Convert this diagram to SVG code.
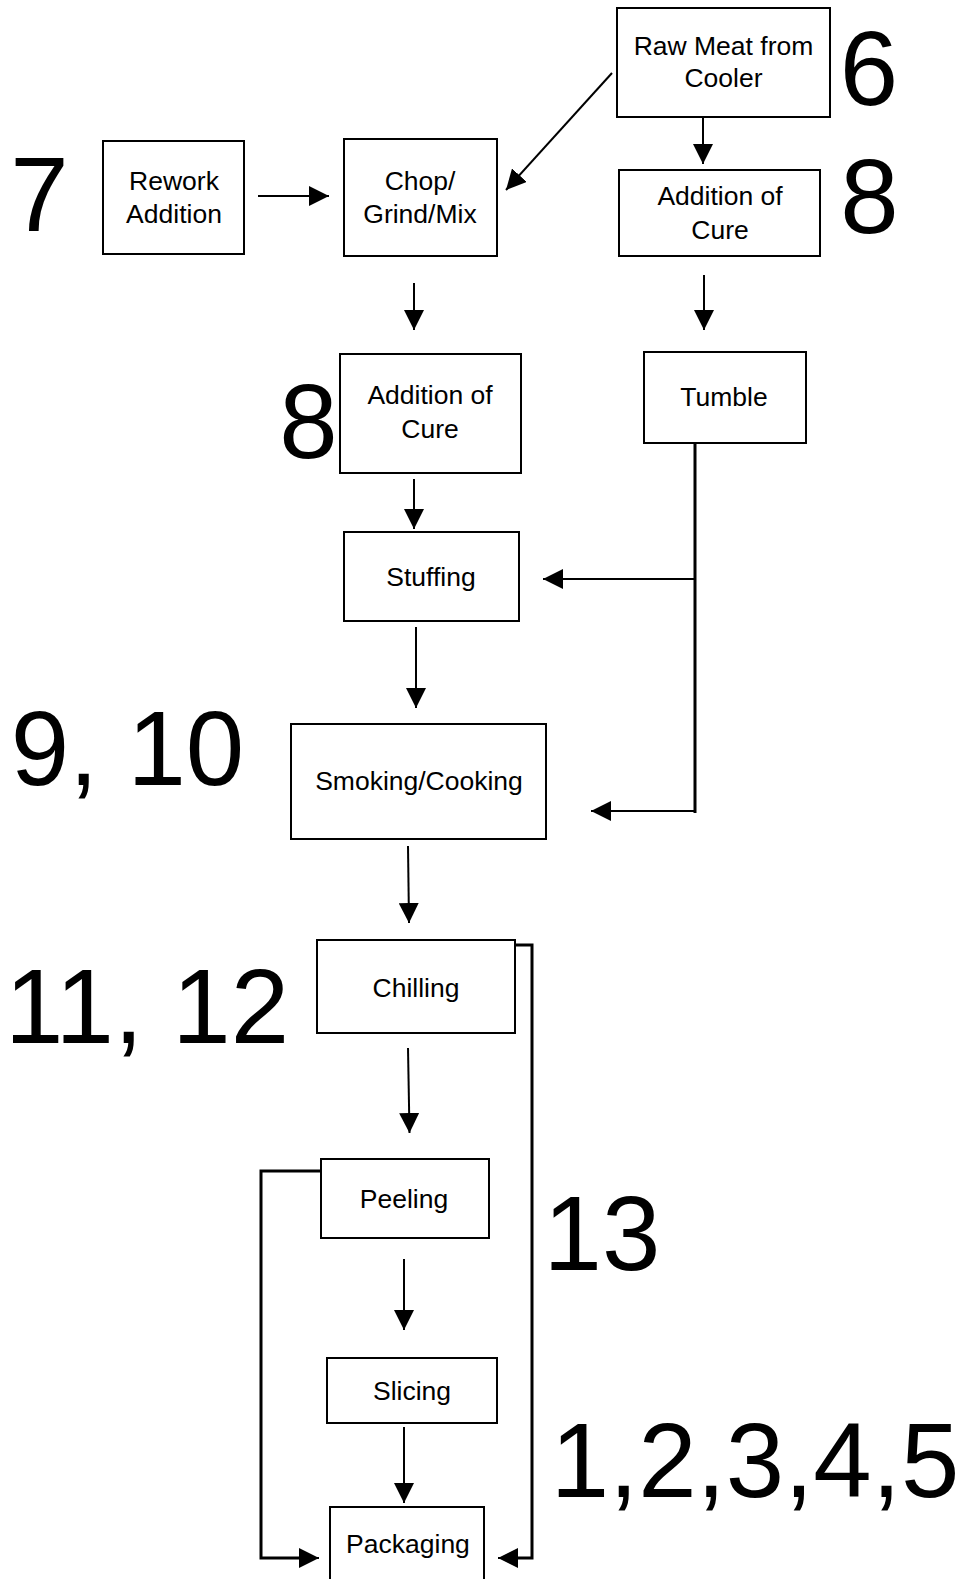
<svg xmlns="http://www.w3.org/2000/svg" width="969" height="1579" viewBox="0 0 969 1579">
<style>
.box{fill:#fff;stroke:#000;stroke-width:2}
.lbl{font-family:"Liberation Sans",Arial,sans-serif;font-size:26.5px;fill:#000;text-anchor:middle}
.num{font-family:"Liberation Sans",Arial,sans-serif;font-size:105px;fill:#000;text-anchor:middle}
.c{fill:none;stroke:#000;stroke-width:2}
.ct{fill:none;stroke:#000;stroke-width:3}
</style>
<defs>
<marker id="ah" markerUnits="userSpaceOnUse" markerWidth="20" markerHeight="20" refX="20" refY="10" orient="auto" viewBox="0 0 20 20">
<path d="M0,0 L20,10 L0,20 z" fill="#000"/>
</marker>
</defs>
<rect width="969" height="1579" fill="#fff"/>
<g id="connectors">
<line class="c" x1="258" y1="196" x2="329" y2="196" marker-end="url(#ah)"/>
<line class="c" x1="612" y1="73" x2="506" y2="190" marker-end="url(#ah)"/>
<line class="c" x1="703" y1="117" x2="703" y2="164" marker-end="url(#ah)"/>
<line class="c" x1="414" y1="283" x2="414" y2="330" marker-end="url(#ah)"/>
<line class="c" x1="704" y1="275" x2="704" y2="330" marker-end="url(#ah)"/>
<line class="c" x1="414" y1="479" x2="414" y2="529" marker-end="url(#ah)"/>
<line class="ct" x1="695" y1="443" x2="695" y2="813"/>
<line class="c" x1="695" y1="579" x2="543" y2="579" marker-end="url(#ah)"/>
<line class="c" x1="695" y1="811" x2="591" y2="811" marker-end="url(#ah)"/>
<line class="c" x1="416" y1="627" x2="416" y2="708" marker-end="url(#ah)"/>
<line class="c" x1="408" y1="846" x2="409" y2="923" marker-end="url(#ah)"/>
<line class="c" x1="408" y1="1048" x2="409.5" y2="1133" marker-end="url(#ah)"/>
<polyline class="ct" points="515,945 532,945 532,1558 518,1558"/>
<line class="c" x1="520" y1="1558" x2="498" y2="1558" marker-end="url(#ah)"/>
<polyline class="ct" points="321,1171 261,1171 261,1558 300,1558"/>
<line class="c" x1="298" y1="1558" x2="319" y2="1558" marker-end="url(#ah)"/>
<line class="c" x1="404" y1="1259" x2="404" y2="1330" marker-end="url(#ah)"/>
<line class="c" x1="404" y1="1427" x2="404" y2="1503" marker-end="url(#ah)"/>
</g>
<g id="raw-meat"><rect class="box" x="617" y="8" width="213" height="109"/><text class="lbl" x="723.5" y="55">Raw Meat from</text><text class="lbl" x="723.5" y="87">Cooler</text></g>
<g id="rework"><rect class="box" x="103" y="141" width="141" height="113"/><text class="lbl" x="174" y="190">Rework</text><text class="lbl" x="174" y="223">Addition</text></g>
<g id="chop"><rect class="box" x="344" y="139" width="153" height="117"/><text class="lbl" x="420" y="190">Chop/</text><text class="lbl" x="420" y="223">Grind/Mix</text></g>
<g id="cure-right"><rect class="box" x="619" y="170" width="201" height="86"/><text class="lbl" x="720" y="205">Addition of</text><text class="lbl" x="720" y="239">Cure</text></g>
<g id="cure-mid"><rect class="box" x="340" y="354" width="181" height="119"/><text class="lbl" x="430" y="404">Addition of</text><text class="lbl" x="430" y="438">Cure</text></g>
<g id="tumble"><rect class="box" x="644" y="352" width="162" height="91"/><text class="lbl" x="724" y="406">Tumble</text></g>
<g id="stuffing"><rect class="box" x="344" y="532" width="175" height="89"/><text class="lbl" x="431" y="586">Stuffing</text></g>
<g id="smoking"><rect class="box" x="291" y="724" width="255" height="115"/><text class="lbl" x="419" y="790">Smoking/Cooking</text></g>
<g id="chilling"><rect class="box" x="317" y="940" width="198" height="93"/><text class="lbl" x="416" y="997">Chilling</text></g>
<g id="peeling"><rect class="box" x="321" y="1159" width="168" height="79"/><text class="lbl" x="404" y="1208">Peeling</text></g>
<g id="slicing"><rect class="box" x="327" y="1358" width="170" height="65"/><text class="lbl" x="412" y="1400">Slicing</text></g>
<g id="packaging"><rect class="box" x="330" y="1507" width="154" height="80"/><text class="lbl" x="408" y="1553">Packaging</text></g>
<g id="numbers">
<text class="num" x="869" y="105">6</text>
<text class="num" x="869.5" y="233">8</text>
<text class="num" x="39.5" y="231">7</text>
<text class="num" x="308.5" y="458">8</text>
<text class="num" x="127.5" y="785">9, 10</text>
<text class="num" x="147" y="1043">11, 12</text>
<text class="num" x="602" y="1270">13</text>
<text class="num" x="755" y="1497">1,2,3,4,5</text>
</g>
</svg>
